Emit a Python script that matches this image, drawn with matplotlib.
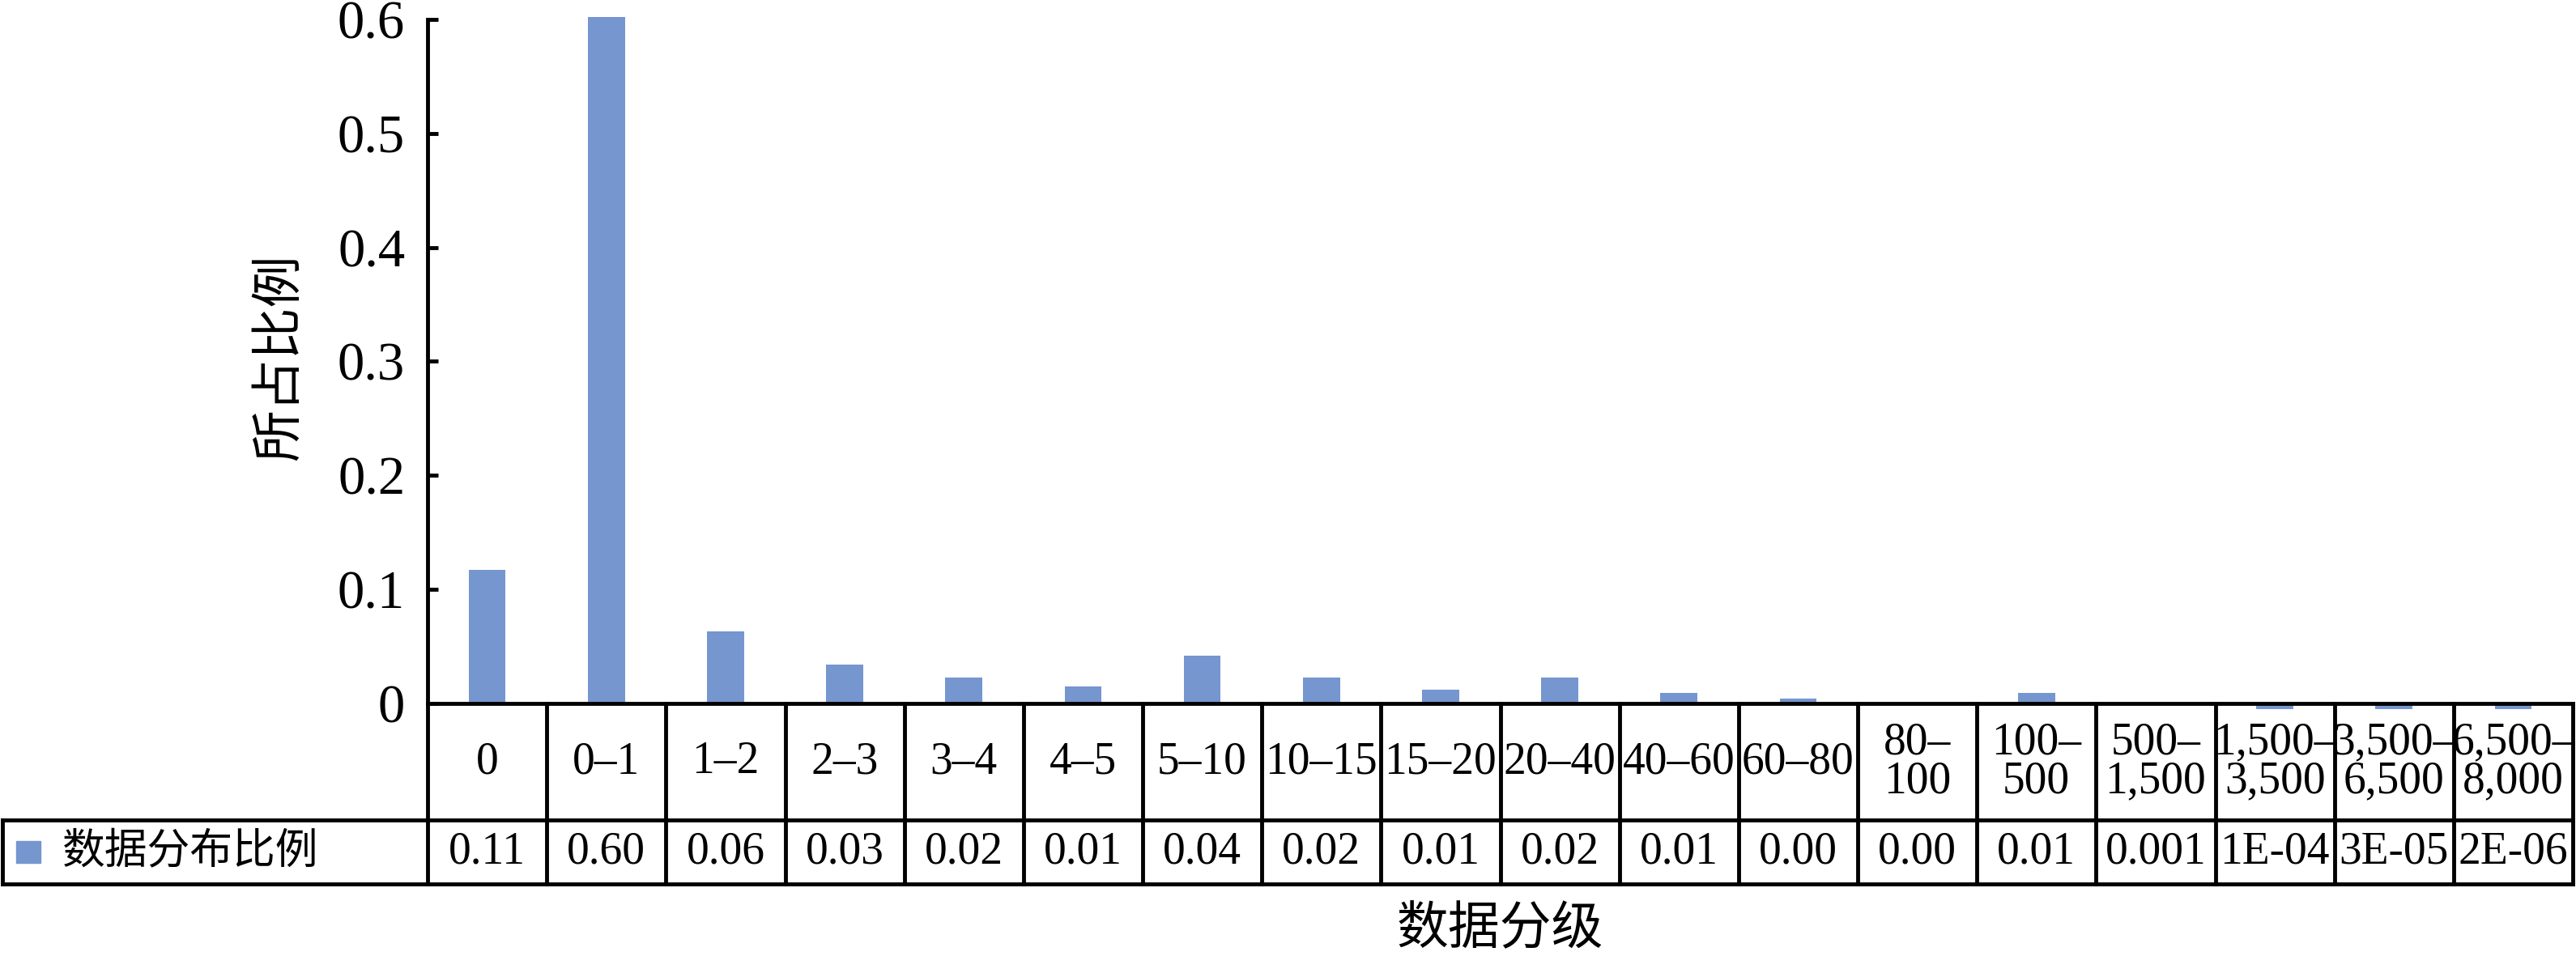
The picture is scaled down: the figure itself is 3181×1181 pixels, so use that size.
import matplotlib
matplotlib.use("Agg")
import matplotlib.pyplot as plt
from matplotlib.patches import Rectangle

plt.rcParams['font.family'] = ['Liberation Serif', 'Noto Sans CJK SC', 'DejaVu Sans']

# ==== DATA ====
categories = ['0', '0–1', '1–2', '2–3', '3–4', '4–5', '5–10', '10–15', '15–20',
              '20–40', '40–60', '60–80', '80–\n100', '100–\n500', '500–\n1,500',
              '1,500–\n3,500', '3,500–\n6,500', '6,500–\n8,000']
table_values = ['0.11', '0.60', '0.06', '0.03', '0.02', '0.01', '0.04', '0.02', '0.01',
                '0.02', '0.01', '0.00', '0.00', '0.01', '0.001', '1E-04', '3E-05', '2E-06']
# bar heights (the last three hang just below the axis)
bar_heights = [0.117, 0.602, 0.063, 0.034, 0.023, 0.015, 0.042, 0.023, 0.012,
               0.023, 0.009, 0.004, 0.0, 0.009, 0.0, -0.005, -0.005, -0.005]
yticks = [0, 0.1, 0.2, 0.3, 0.4, 0.5, 0.6]
ytick_labels = ['0', '0.1', '0.2', '0.3', '0.4', '0.5', '0.6']
series_name = '数据分布比例'
xlabel = '数据分级'
ylabel = '所占比例'

BAR_COLOR = '#7596cf'
LW = 3.5

# ==== LAYOUT (pixels of a 3181x1181 canvas) ====
W, H = 3181, 1181
ax_left, ax_right, ax_top, ax_bottom = 528, 3177, 24, 869
tab_left, tab_bottom = 3, 1092
row_split_px = 1013

fig = plt.figure(figsize=(W / 100, H / 100), dpi=100)
ax = fig.add_axes([ax_left / W, (H - ax_bottom) / H,
                   (ax_right - ax_left) / W, (ax_bottom - ax_top) / H])

n = len(categories)
x = list(range(n))
ax.bar(x, bar_heights, width=0.31, color=BAR_COLOR, zorder=1, clip_on=False)
ax.set_xlim(-0.5, n - 0.5)
ax.set_ylim(0, 0.6)
ax.set_yticks(yticks)
ax.set_yticklabels(ytick_labels, fontsize=48)
ax.set_xticks([])
ax.tick_params(axis='y', direction='in', length=9, width=LW, pad=20)
for s in ['top', 'right']:
    ax.spines[s].set_visible(False)
for s in ['left', 'bottom']:
    ax.spines[s].set_linewidth(LW)
    ax.spines[s].set_zorder(3)

# ==== DATA TABLE ====
col_w = (ax_right - ax_left) / n
x0 = -0.5 - (ax_left - tab_left) / col_w
tab = fig.add_axes([tab_left / W, (H - tab_bottom) / H,
                    (ax_right - tab_left) / W, (tab_bottom - ax_bottom) / H])
tab.set_xlim(x0, n - 0.5)
tab.set_ylim(0, 1)
tab.axis('off')
ys = (tab_bottom - row_split_px) / (tab_bottom - ax_bottom)

line_kw = dict(color='black', lw=LW, clip_on=False, solid_capstyle='projecting')
for i in range(n + 1):
    xb = -0.5 + i
    tab.plot([xb, xb], [ys, 1], **line_kw)
    tab.plot([xb, xb], [0, ys], **line_kw)
tab.plot([x0, x0], [0, ys], **line_kw)
tab.plot([x0, n - 0.5], [ys, ys], **line_kw)
tab.plot([x0, n - 0.5], [0, 0], **line_kw)

for i in range(n):
    tab.text(i, (ys + 1) / 2, categories[i], ha='center', va='center',
             multialignment='center', fontsize=40, linespacing=0.9)
    tab.text(i, ys / 2, table_values[i], ha='center', va='center', fontsize=40)

tab.add_patch(Rectangle((0.0054, ys / 2 - 0.062), 0.0095, 0.124,
                        transform=tab.transAxes, color=BAR_COLOR, clip_on=False))
tab.text(0.0233, ys / 2, series_name, transform=tab.transAxes,
         ha='left', va='center', fontsize=38)

# ==== AXIS TITLES ====
fig.text(347 / W, (H - 441) / H, ylabel, rotation=90, ha='center', va='center', fontsize=46)
fig.text((ax_left + ax_right) / 2 / W, (H - 1150) / H, xlabel, ha='center', va='center', fontsize=46)

fig.savefig('out.png', dpi=100)
